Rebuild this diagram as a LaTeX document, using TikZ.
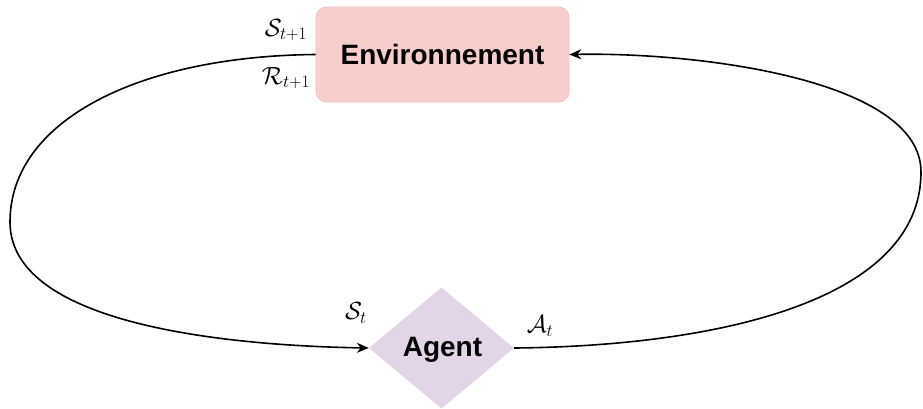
\documentclass[tikz,border=0pt]{standalone}
\usepackage[no-math]{fontspec}
\setmainfont{Liberation Sans}
\usetikzlibrary{shapes.geometric,arrows.meta}
\definecolor{envfill}{HTML}{F8CECC}
\definecolor{agentfill}{HTML}{E1D5E7}
\tikzset{
  envbox/.style={rectangle, rounded corners=10pt, fill=envfill, draw=envfill!90!black!60!envfill, line width=0.6pt, minimum width=253pt, minimum height=95pt, inner sep=0pt, font=\fontsize{28}{32}\selectfont\bfseries},
  agentbox/.style={diamond, fill=agentfill, inner sep=0pt},
  boldtxt/.style={inner sep=0pt, font=\fontsize{28}{32}\selectfont\bfseries},
  flow/.style={line width=1.6pt, -{Stealth[length=12pt,width=10pt]}},
  plain/.style={line width=1.6pt},
  lbl/.style={inner sep=0pt, font=\fontsize{25}{28}\selectfont}
}
\begin{document}
\begin{tikzpicture}[x=1pt,y=-1pt]
\useasboundingbox (0,0) rectangle (923,408);
\node[envbox] (env) at (442.5,54.5) {Environnement};
\node[agentbox, minimum width=145pt, minimum height=121pt] (agent) at (441.5,348) {};
\node[boldtxt] (agentlbl) at (442.5,350) {Agent};
\coordinate (lm) at (10,222);
\coordinate (rm) at (921,172);
\draw[plain] (env.west) .. controls (140,56) and (10,120) .. (lm);
\draw[flow] (lm) .. controls (10,330) and (250,346) .. (agent.west);
\draw[plain] (agent.east) .. controls (720,346) and (921,300) .. (rm);
\draw[flow] (rm) .. controls (921,80) and (700,52) .. (env.east);
\node[lbl] (s1) at (286,30) {$\mathcal{S}_{t+1}$};
\node[lbl] (r1) at (286,78) {$\mathcal{R}_{t+1}$};
\node[lbl] (st) at (356,313) {$\mathcal{S}_{t}$};
\node[lbl] (at) at (540,326) {$\mathcal{A}_{t}$};
\end{tikzpicture}
\end{document}
